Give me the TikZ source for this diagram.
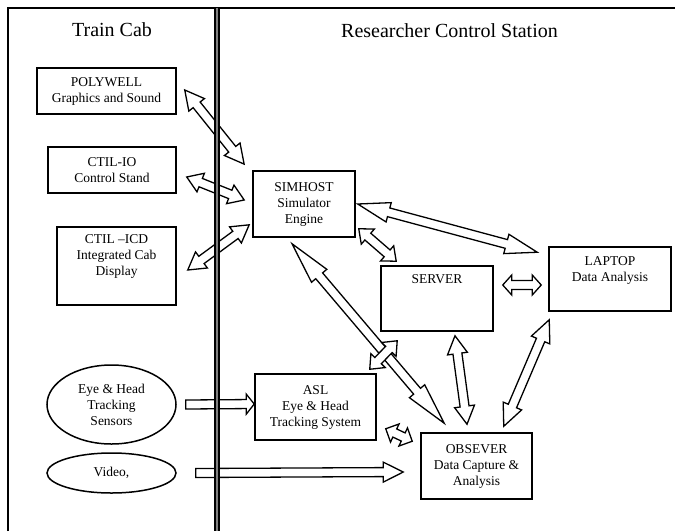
\documentclass[tikz,border=0pt]{standalone}
\usepackage{fontspec}
\setmainfont{Liberation Serif}
\usetikzlibrary{calc,positioning,shapes.geometric}
\newcommand{\boxfont}{\fontsize{13.5}{16}\selectfont}
\newcommand{\titlefont}{\fontsize{20}{24}\selectfont}
\def\hw{10}
\def\sw{4.5}
% ends of a block arrow: {anchor}{offset}{anchor}{offset}
\newcommand{\arrends}[4]{%
  \coordinate (arrA) at ($(#1)+(#2)$);
  \coordinate (arrB) at ($(#3)+(#4)$);
  \path let \p1=($(arrB)-(arrA)$) in
    \pgfextra{\pgfmathparse{atan2(\y1,\x1)}\xdef\arrang{\pgfmathresult}%
      \pgfmathparse{veclen(\x1,\y1)}\xdef\arrlen{\pgfmathresult}};
}
\newcommand{\dblarr}[5][14]{%
  \arrends{#2}{#3}{#4}{#5}
  \draw[blockarr, shift={(arrA)}, rotate=\arrang]
    (0,0) -- (#1,\hw) -- (#1,\sw) -- ({\arrlen-#1},\sw) -- ({\arrlen-#1},\hw)
    -- (\arrlen,0) -- ({\arrlen-#1},-\hw) -- ({\arrlen-#1},-\sw)
    -- (#1,-\sw) -- (#1,-\hw) -- cycle;
}
\newcommand{\sglarr}[5][14]{%
  \arrends{#2}{#3}{#4}{#5}
  \draw[blockarr, shift={(arrA)}, rotate=\arrang]
    (0,\sw) -- ({\arrlen-#1},\sw) -- ({\arrlen-#1},\hw) -- (\arrlen,0)
    -- ({\arrlen-#1},-\hw) -- ({\arrlen-#1},-\sw) -- (0,-\sw) -- cycle;
}
\tikzset{
  box/.style={draw, line width=1.5pt, inner sep=0pt, align=center, font=\boxfont},
  oval/.style={ellipse, draw, line width=1.5pt, inner sep=0pt, align=center, font=\boxfont},
  txt/.style={inner sep=0pt, align=center, font=\boxfont},
  title/.style={inner sep=0pt, font=\titlefont},
  blockarr/.style={draw, line width=1.3pt, fill=white, line join=miter}
}

\begin{document}
\begin{tikzpicture}[x=1pt, y=-1pt]
  \useasboundingbox (0,0) rectangle (675,531);

  %%%%% FRAME %%%%%
  \draw[line width=2pt] (8,531) -- (8,8) -- (675,8);
  \node[title] (cab) at (112,30) {Train Cab};
  \node[title] (station) at (449.5,31) {Researcher Control Station};

  %%%%% TRAIN CAB %%%%%
  \node[box, minimum width=139pt, minimum height=46pt] (poly) at (106.5,91) {POLYWELL\\Graphics and Sound};
  \node[box, minimum width=128pt, minimum height=46pt] (ctilio) at (112,170) {CTIL-IO\\Control Stand};
  \node[box, minimum width=119pt, minimum height=78pt] (ctilicd) at (116.5,266) {};
  \node[txt, below=8pt of ctilicd.north] (ctilicdtxt) {CTIL –ICD\\Integrated Cab\\Display};
  \node[oval, minimum width=129pt, minimum height=79pt] (eye) at (111.5,404.5) {Eye \& Head\\Tracking\\Sensors};
  \node[oval, minimum width=129pt, minimum height=40pt] (video) at (111.5,473) {Video,};

  %%%%% CONTROL STATION %%%%%
  \node[box, minimum width=102pt, minimum height=66pt] (sim) at (304,204) {SIMHOST\\Simulator\\Engine};
  \node[box, minimum width=112pt, minimum height=65pt] (server) at (437,298.5) {};
  \node[txt, below=9pt of server.north] (servertxt) {SERVER};
  \node[box, minimum width=122pt, minimum height=64pt] (laptop) at (610,279) {};
  \node[txt, below=10pt of laptop.north] (laptoptxt) {LAPTOP\\Data Analysis};
  \node[box, minimum width=121pt, minimum height=66pt] (asl) at (315.5,407) {ASL\\Eye \& Head\\Tracking System};
  \node[box, minimum width=111pt, minimum height=66pt] (obs) at (476.5,466) {OBSEVER\\Data Capture \&\\Analysis};

  %%%%% ARROWS %%%%%
  \dblarr[19]{poly.east}{8,-1}{sim.north west}{-8,-6}
  \dblarr[15]{ctilio.east}{10,7}{sim.west}{-8,-4}
  \dblarr[17]{ctilicd.east}{11,4}{sim.south west}{-3,-13}
  \dblarr[32]{sim.east}{2,0}{laptop.north west}{-11,6}
  \dblarr[12]{sim.south east}{3,-9}{server.north west}{16,-4}
  \dblarr[9]{server.east}{9,-13.5}{laptop.west}{-7,6}
  \dblarr[42]{sim.south}{-12,6}{obs.north west}{24,-9}
  \dblarr[12]{asl.north east}{-7,-4}{server.south west}{17,9}
  \dblarr[18]{server.south}{18,4}{obs.north}{-9.5,-8}
  \dblarr[22]{laptop.south west}{1,8}{obs.north east}{-29,-6}
  \dblarr[10]{asl.south east}{9,-12}{obs.north west}{-8,9}
  \sglarr[8]{eye.east}{9,0}{asl.west}{0,-3}
  \sglarr[20]{video.east}{19,0}{obs.west}{-17,6}

  %%%%% DIVIDER %%%%%
  \draw[line width=1.6pt, double=gray, double distance=2pt] (217,8) -- (217,531);
\end{tikzpicture}
\end{document}
